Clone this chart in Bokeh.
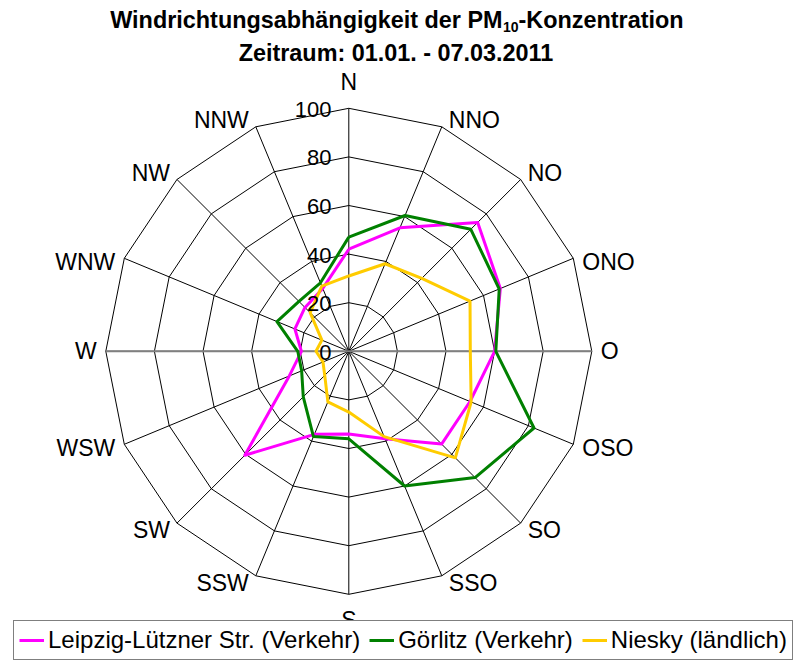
import math
from bokeh.plotting import figure
from bokeh.models import Range1d, ColumnDataSource, Legend, LegendItem
from bokeh.core.properties import value
from bokeh.embed import file_html
from bokeh.resources import INLINE

# ---------------- data ----------------
directions = ["N", "NNO", "NO", "ONO", "O", "OSO", "SO", "SSO",
              "S", "SSW", "SW", "WSW", "W", "WNW", "NW", "NNW"]
leipzig = [42, 55, 75, 67.5, 60, 54, 54, 39, 34, 37, 60.5, 26.5, 19.5, 24, 25.5, 28]
goerlitz = [47, 60.5, 71, 67, 60.5, 82.5, 73.5, 60, 36, 38, 26.5, 21, 21, 32, 29, 30.5]
niesky = [31, 39, 42.5, 54, 50, 54.5, 62, 38, 25, 22.5, 14, 11.5, 13.5, 12, 22.5, 29]
series_names = ["Leipzig-Lützner Str. (Verkehr)", "Görlitz (Verkehr)", "Niesky (ländlich)"]
series_colors = ["#FF00FF", "#008000", "#FFCC00"]
ticks = [0, 20, 40, 60, 80, 100]
title1 = "Windrichtungsabhängigkeit der PM"
title_sub = "10"
title2 = "-Konzentration"
subtitle = "Zeitraum: 01.01. - 07.03.2011"

# ---------------- layout ----------------
W, H = 798, 664
PX = 2.43              # pixels per value unit
CX, CY = 348.3, 350.8  # centre in page pixels
FONT = "Liberation Sans"
BASE_FIX = 0.34        # baseline correction (fraction of font size) for svg text


def dx(px):
    return (px - CX) / PX


def dy(py, fs=0.0):
    # py: desired alphabetic baseline in page px; fs: font size for correction
    return (CY - (py - BASE_FIX * fs)) / PX


p = figure(width=W, height=H, output_backend="svg", toolbar_location=None,
           title_location=None,
           x_range=Range1d(dx(0), dx(W)), y_range=Range1d(dy(H), dy(0)),
           min_border=0, x_axis_type=None, y_axis_type=None)
p.grid.visible = False
p.outline_line_color = None
p.background_fill_color = "white"
p.border_fill_color = "white"

n = len(directions)
angles = [2 * math.pi * i / n for i in range(n)]
sins = [math.sin(a) for a in angles]
coss = [math.cos(a) for a in angles]
rmax = ticks[-1]

# rings
ring_xs, ring_ys = [], []
for t in ticks[1:]:
    ring_xs.append([t * s for s in sins] + [t * sins[0]])
    ring_ys.append([t * c for c in coss] + [t * coss[0]])
p.multi_line(ring_xs, ring_ys, line_color="black", line_width=1)

# spokes
sp_xs = [[0, rmax * s] for s in sins]
sp_ys = [[0, rmax * c] for c in coss]
p.multi_line(sp_xs, sp_ys, line_color="black", line_width=1)

# horizontal axis line (gray)
iw = directions.index("W")
io = directions.index("O")
p.line([rmax * sins[iw], rmax * sins[io]], [0, 0], line_color="#808080", line_width=2)

# data series
renderers = []
for vals, col in zip([leipzig, goerlitz, niesky], series_colors):
    xs = [v * s for v, s in zip(vals, sins)] + [vals[0] * sins[0]]
    ys = [v * c for v, c in zip(vals, coss)] + [vals[0] * coss[0]]
    r = p.line(xs, ys, line_color=col, line_width=3, line_join="round")
    renderers.append(r)

# tick labels
TFS = 22
p.text(x=[dx(331)] * len(ticks), y=[dy(CY - t * PX + 8.5, TFS) for t in ticks],
       text=[str(t) for t in ticks], text_align="right", text_baseline="alphabetic",
       text_font=value(FONT), text_font_size=f"{TFS}px", text_color="black")

# direction labels
DFS = 23
lx, ly, la = [], [], []
for i, d in enumerate(directions):
    vx = CX + rmax * PX * sins[i]
    vy = CY - rmax * PX * coss[i]
    s, c = sins[i], coss[i]
    if abs(s) < 0.1:
        align = "center"
        ox = 0
        oy = -18 if c > 0 else 34
    else:
        sign = 1 if s > 0 else -1
        align = "left" if s > 0 else "right"
        if c > 0.5:        # upper (NNO, NO)
            ox, oy = 7 * sign, 1.5
        elif c > -0.5:     # near horizontal
            ox, oy = 9 * sign, 8 + 3.5 * (abs(c) > 0.1)
        else:              # lower (SO, SSO)
            ox, oy = 7 * sign, 15
    lx.append(dx(vx + ox))
    ly.append(dy(vy + oy, DFS))
    la.append(align)
src = ColumnDataSource(dict(x=lx, y=ly, t=directions, a=la))
p.text(x="x", y="y", text="t", text_align="a", text_baseline="alphabetic", source=src,
       text_font=value(FONT), text_font_size=f"{DFS}px", text_color="black")

# title
HFS = 23.4
SFS = 14
split = 502
p.text(x=[dx(split)], y=[dy(27.7, HFS)], text=[title1], text_align="right", text_baseline="alphabetic",
       text_font=value(FONT), text_font_style="bold", text_font_size=f"{HFS}px", text_color="black")
p.text(x=[dx(split + 0.5)], y=[dy(31.5, SFS)], text=[title_sub], text_align="left", text_baseline="alphabetic",
       text_font=value(FONT), text_font_style="bold", text_font_size=f"{SFS}px", text_color="black")
p.text(x=[dx(split + 16)], y=[dy(27.7, HFS)], text=[title2], text_align="left", text_baseline="alphabetic",
       text_font=value(FONT), text_font_style="bold", text_font_size=f"{HFS}px", text_color="black")
p.text(x=[dx(395.5)], y=[dy(60, HFS)], text=[subtitle], text_align="center", text_baseline="alphabetic",
       text_font=value(FONT), text_font_style="bold", text_font_size=f"{HFS}px", text_color="black")

# legend (box from x=13 to ~796, bottom at y=660)
items = [LegendItem(label=nm, renderers=[r]) for nm, r in zip(series_names, renderers)]
legend = Legend(items=items, location=(13, H - 660), orientation="horizontal",
                label_text_font=FONT, label_text_font_size="24px", label_text_color="black",
                border_line_color="black", border_line_width=1, background_fill_color="white",
                background_fill_alpha=1.0, padding=5, spacing=9, glyph_width=25, glyph_height=20,
                label_standoff=4, margin=0)
p.add_layout(legend)

html = file_html(p, INLINE)
html = html.replace("<head>", "<head><style>html,body{margin:0;padding:0;overflow:hidden;}</style>", 1)
open("out.html", "w").write(html)
